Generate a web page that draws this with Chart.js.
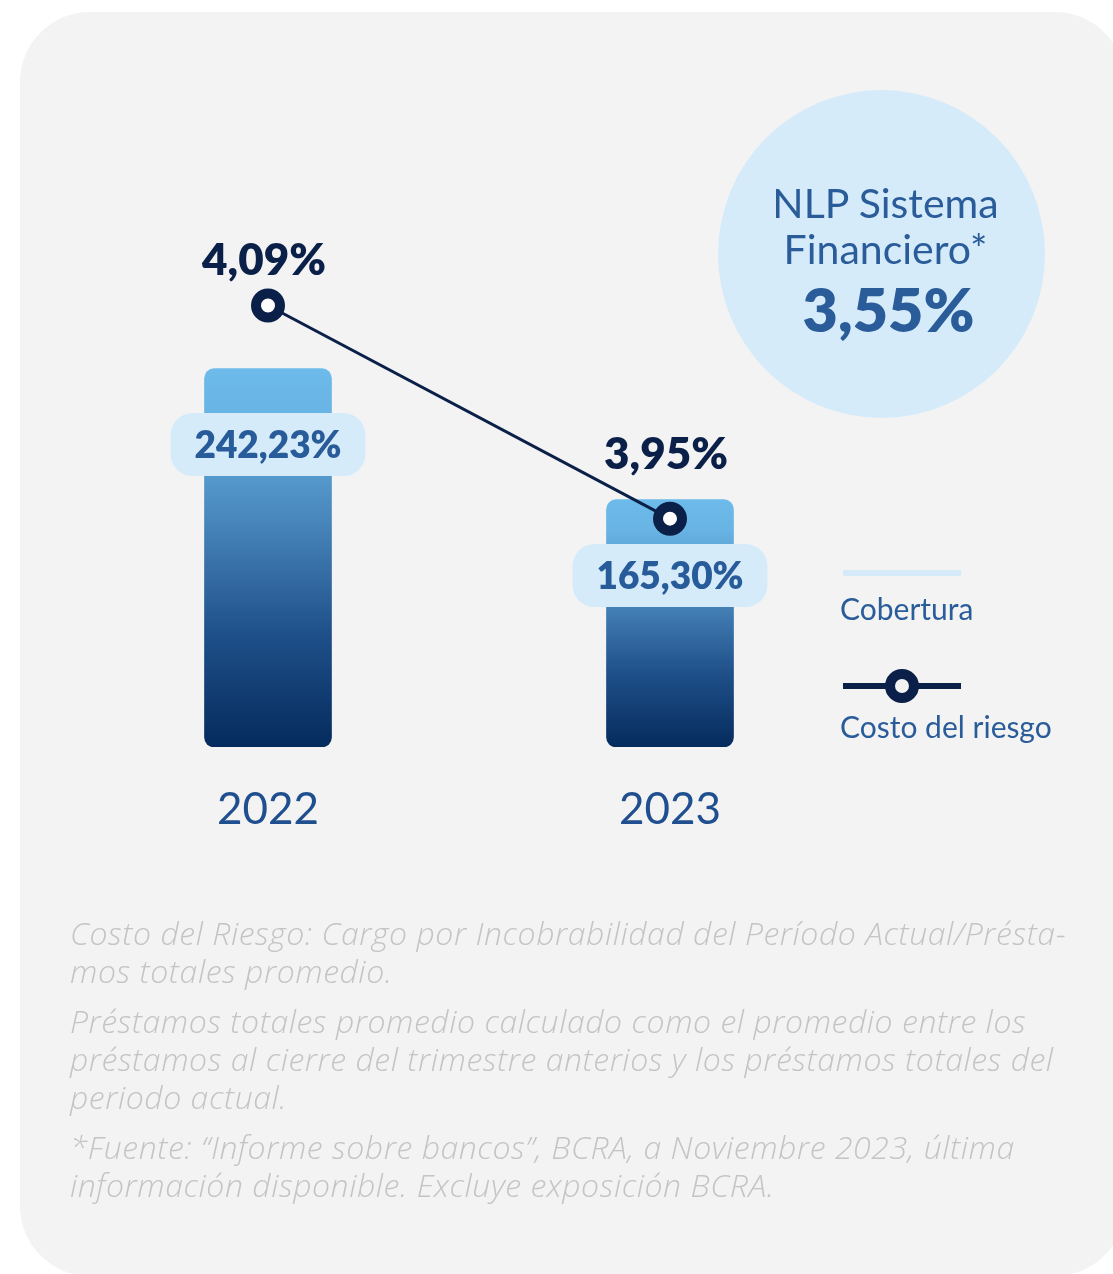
<!DOCTYPE html>
<html>
<head>
<meta charset="utf-8">
<script src="https://cdn.jsdelivr.net/npm/chart.js@4.4.1/dist/chart.umd.min.js"></script>
<style>
  html, body { margin: 0; padding: 0; background: #ffffff; }
  body { width: 1113px; height: 1274px; position: relative; overflow: hidden; font-family: "Lato", "Open Sans", sans-serif; }
  .card { position: absolute; left: 20px; top: 12px; width: 1105px; height: 1264px; background: #f3f3f3; border-radius: 70px; }
  #chartWrap { position: absolute; left: 0; top: 0; width: 1113px; height: 1274px; }
  .bubble { position: absolute; left: 718px; top: 90px; width: 327px; height: 328px; border-radius: 50%; background: #d5ebfa; color: #2a5c9a; text-align: center; }
  .bubble .t { position: absolute; left: 8px; right: 0; font-size: 41px; line-height: 46px; }
  .bubble .v { position: absolute; left: 14px; right: 0; top: 182px; font-size: 61px; font-weight: 800; }
  .legend { position: absolute; left: 840px; color: #2a5c9a; font-size: 30px; }
  .legend .sw { position: absolute; left: 3px; width: 118px; }
  .note { position: absolute; left: 70px; top: 914px; color: #c4c4c4; font-style: italic; font-size: 32px; letter-spacing: 0.55px; font-family: "Open Sans", sans-serif; font-weight: 300; }
  .note p { margin: 0 0 12px 0; line-height: 38px; white-space: nowrap; }
</style>
</head>
<body>
<div class="card"></div>
<div id="chartWrap"><canvas id="chart"></canvas></div>

<div class="bubble">
  <div class="t" style="top: 90px;">NLP Sistema</div>
  <div class="t" style="top: 136px;">Financiero*</div>
  <div class="v" id="nlpValue"></div>
</div>

<div class="legend" style="top: 560px;">
  <div class="sw" style="top: 10px; height: 6px; background: #d5ebfa;"></div>
  <div style="position:absolute; top: 30px; white-space: nowrap;">Cobertura</div>
</div>
<div class="legend" style="top: 672px;">
  <div class="sw" style="top: 11px; height: 6px; background: #0b2048;"></div>
  <div style="position:absolute; left: 45px; top: -3px; width: 14px; height: 14px; border: 10px solid #0b2048; border-radius: 50%; background: #f3f3f3;"></div>
  <div style="position:absolute; top: 36px; white-space: nowrap;">Costo del riesgo</div>
</div>

<div class="note">
  <p>Costo del Riesgo: Cargo por Incobrabilidad del Período Actual/Présta-<br>mos totales promedio.</p>
  <p>Préstamos totales promedio calculado como el promedio entre los<br>préstamos al cierre del trimestre anterios y los préstamos totales del<br>periodo actual.</p>
  <p>*Fuente: “Informe sobre bancos”, BCRA, a Noviembre 2023, última<br>información disponible. Excluye exposición BCRA.</p>
</div>

<script>
// datos
const years = ['2022', '2023'];
const cobertura = [242.23, 165.30];
const costoRiesgo = [4.09, 3.95];
const nlpSistema = 3.55;

// rango de los ejes (no empiezan en cero)
const coberturaMin = 20, coberturaMax = 400;
const riesgoMin = 3.8, riesgoMax = 4.225;

const fmt = (v) => v.toFixed(2).replace('.', ',') + '%';
document.getElementById('nlpValue').textContent = fmt(nlpSistema);

// gradiente de las barras
function barGradient(ctx) {
  const chart = ctx.chart;
  const area = chart.chartArea;
  if (!area || ctx.type !== 'data') return '#3b7fb8';
  const top = chart.scales.y.getPixelForValue(cobertura[ctx.dataIndex]);
  const g = chart.ctx.createLinearGradient(0, top, 0, area.bottom);
  g.addColorStop(0, '#6dbbea');
  g.addColorStop(0.12, '#68b4e4');
  g.addColorStop(0.4, '#4886bb');
  g.addColorStop(0.7, '#1f5089');
  g.addColorStop(1, '#052b5d');
  return g;
}

// etiquetas de valores
const labelsPlugin = {
  id: 'valueLabels',
  afterDatasetsDraw(chart) {
    const c = chart.ctx;
    const bars = chart.getDatasetMeta(1).data;
    const pts = chart.getDatasetMeta(0).data;
    c.save();
    c.textAlign = 'center';
    c.textBaseline = 'middle';
    bars.forEach((bar, i) => {
      const cx = bar.x;
      const cy = bar.y + 76;
      const w = 195, h = 63, r = 22;
      c.fillStyle = '#d5ebfa';
      c.beginPath();
      c.roundRect(cx - w / 2, cy - h / 2, w, h, r);
      c.fill();
      c.fillStyle = '#285b99';
      c.font = '800 37px Lato, sans-serif';
      c.fillText(fmt(cobertura[i]), cx, cy + 1);
    });
    pts.forEach((p, i) => {
      const topY = Math.min(p.y, bars[i].y);
      c.fillStyle = '#0b2048';
      c.font = '800 44px Lato, sans-serif';
      c.fillText(fmt(costoRiesgo[i]), p.x - 4, topY - 45);
    });
    c.restore();
  }
};

new Chart(document.getElementById('chart'), {
  data: {
    labels: years,
    datasets: [{
      type: 'line',
      label: 'Costo del riesgo',
      data: costoRiesgo,
      yAxisID: 'y1',
      borderColor: '#0b2048',
      borderWidth: 3,
      pointRadius: 12,
      pointHoverRadius: 12,
      pointBorderWidth: 10,
      pointBorderColor: '#0b2048',
      pointBackgroundColor: '#ffffff',
      order: 0
    }, {
      type: 'bar',
      label: 'Cobertura',
      data: cobertura,
      base: coberturaMin,
      yAxisID: 'y',
      backgroundColor: barGradient,
      borderRadius: 10,
      borderSkipped: false,
      barThickness: 127,
      order: 1
    }]
  },
  options: {
    responsive: true,
    maintainAspectRatio: false,
    animation: false,
    layout: { padding: { left: 67, right: 242, top: 100, bottom: 427 } },
    plugins: { legend: { display: false }, tooltip: { enabled: false } },
    scales: {
      x: {
        grid: { display: false, drawTicks: false },
        border: { display: false },
        ticks: { color: '#1f4f8e', font: { family: 'Lato', size: 44 }, padding: 36 },
        afterFit: (s) => { s.height = 100; }
      },
      y: { display: false, min: coberturaMin, max: coberturaMax },
      y1: { display: false, min: riesgoMin, max: riesgoMax }
    }
  },
  plugins: [labelsPlugin]
});
</script>
</body>
</html>
